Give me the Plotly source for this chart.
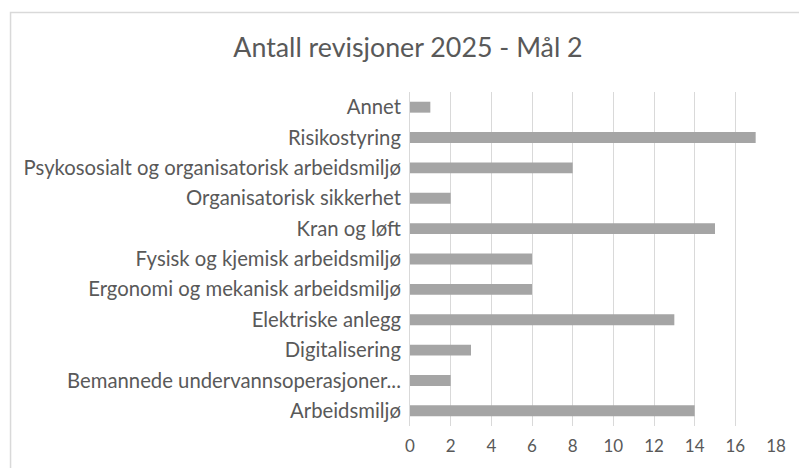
import plotly.graph_objects as go

categories = [
    "Arbeidsmiljø",
    "Bemannede undervannsoperasjoner...",
    "Digitalisering",
    "Elektriske anlegg",
    "Ergonomi og mekanisk arbeidsmiljø",
    "Fysisk og kjemisk arbeidsmiljø",
    "Kran og løft",
    "Organisatorisk sikkerhet",
    "Psykososialt og organisatorisk arbeidsmiljø",
    "Risikostyring",
    "Annet",
]
values = [14, 2, 3, 13, 6, 6, 15, 2, 8, 17, 1]
x_ticks = [0, 2, 4, 6, 8, 10, 12, 14, 16, 18]

W, H = 799, 468
L, R, T, B = 409.5, 23, 92, 42
pw = W - L - R
ph = H - T - B

def px(x):
    return (x - L) / pw

def py(y):
    return (H - B - y) / ph

fig = go.Figure(go.Bar(
    x=values, y=categories, orientation="h",
    marker=dict(color="#a5a5a5", line=dict(width=0)),
    width=0.36,
))

font = "Lato, 'Open Sans', sans-serif"
fig.update_layout(
    width=W, height=H,
    margin=dict(l=L, r=R, t=T, b=B, autoexpand=False),
    paper_bgcolor="white", plot_bgcolor="white",
    font=dict(family=font, color="#595959", size=19),
    title=dict(text="Antall revisjoner 2025 - Mål 2", x=408 / W, xanchor="center",
               xref="container",
               y=1 - 48 / H, yanchor="middle",
               font=dict(size=26.8, color="#595959", family=font)),
    showlegend=False,
    bargap=0.6,
    xaxis=dict(range=[0, 18], tickvals=x_ticks, showgrid=True, gridcolor="#d9d9d9",
               gridwidth=1, zeroline=False, showline=False, ticks="",
               tickfont=dict(size=17, color="#595959"), automargin=False,
               ticklabelstandoff=8),
    yaxis=dict(categoryorder="array", categoryarray=categories, showgrid=False,
               showline=True, linecolor="#d9d9d9", linewidth=1, ticks="",
               tickfont=dict(size=20.3, color="#595959"), automargin=False,
               ticklabelstandoff=4),
    shapes=[dict(type="rect", xref="paper", yref="paper",
                 x0=px(9.5), x1=px(820), y0=py(12.5), y1=py(500),
                 line=dict(color="#d9d9d9", width=1.5), fillcolor="rgba(0,0,0,0)",
                 layer="below")],
)

fig.write_html("out.html", config={"displayModeBar": False},
               post_script="document.body.style.margin='0';document.body.style.overflow='hidden';")
